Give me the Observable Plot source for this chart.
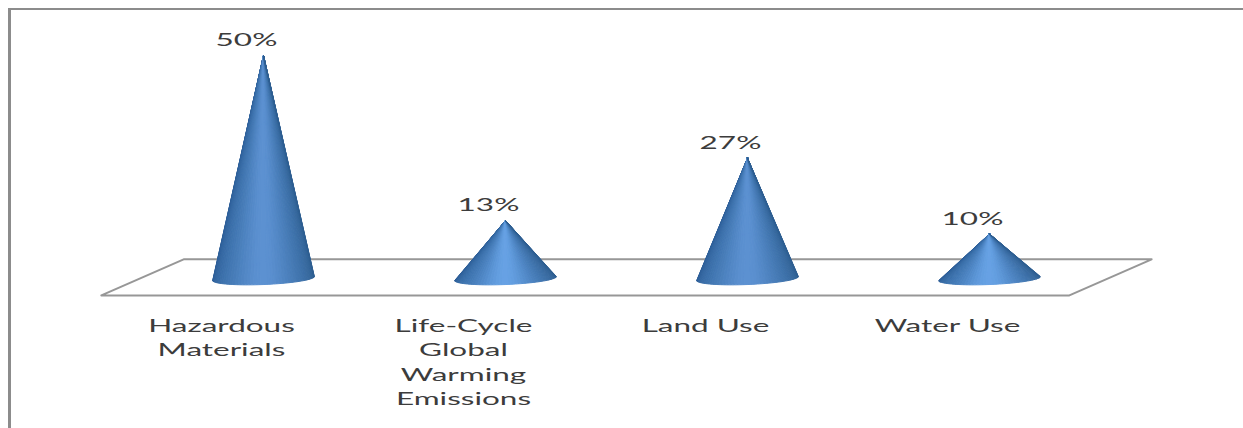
<!DOCTYPE html>
<html>
<head>
<meta charset="utf-8">
<script src="https://cdn.jsdelivr.net/npm/d3@7"></script>
<script src="https://cdn.jsdelivr.net/npm/@observablehq/plot@0.6"></script>
<style>
  html, body { margin: 0; background: #fff; }
  body { width: 1243px; height: 428px; overflow: hidden; position: relative; }
  #frame { position: absolute; left: 8px; top: 8px; width: 1300px; height: 500px;
           border-left: 3px solid #8c8c8c; border-top: 2px solid #8c8c8c; box-sizing: border-box; }
  #chart { position: absolute; left: 0; top: 0; }
</style>
</head>
<body>
<div id="frame"></div>
<div id="chart"></div>
<script>
// Share of impact by category
const categories = [
  "Hazardous\nMaterials",
  "Life-Cycle\nGlobal\nWarming\nEmissions",
  "Land Use",
  "Water Use"
];
const shares = [50, 13, 27, 10];

// Floor outline, in category index and percentage units
const floorX = [-0.67, -0.33, 3.67, 3.33, -0.67];
const floorY = [-3.8, 4.3, 4.3, -3.8, -3.8];

// Cone proportions, in the same units
const baseHalfWidth = 0.21;
const baseDrop = 1.35;
const baseTilt = 0.45;
const facetCount = 48;

// Shading runs from the left rim through the lit centre to the right rim
const tallShade = ["#2a5a94", "#3a6ea8", "#4a80bc", "#6599dc", "#4a80bc", "#3a6ca2", "#2d5d90"];
const shortShade = ["#2a5a94", "#3a70aa", "#4c84c2", "#74b0f5", "#4c84c2", "#3a6ca2", "#2d5d90"];

const facets = [];
shares.forEach((share, c) => {
  const shade = d3.interpolateRgbBasis(share > 20 ? tallShade : shortShade);
  for (let i = 0; i < facetCount; i++) {
    const id = `${c}-${i}`;
    const color = shade((i + 0.5) / facetCount);
    const rim = t => {
      const a = Math.PI * (1 - t);
      return {
        x: c + baseHalfWidth * Math.cos(a),
        y: -baseDrop * Math.sin(a) + baseTilt * Math.cos(a)
      };
    };
    facets.push({id, color, x: c, y: share});
    facets.push({id, color, ...rim(i / facetCount)});
    facets.push({id, color, ...rim((i + 1) / facetCount)});
    facets.push({id, color, x: c, y: share});
  }
});

const rows = categories.map((label, i) => ({i, label, share: shares[i]}));

const plot = Plot.plot({
  width: 1243,
  height: 428,
  margin: 0,
  style: {background: "transparent", overflow: "visible"},
  x: {domain: [-1, 4], range: [21, 1231], axis: null},
  y: {domain: [0, 50], range: [278, 55], axis: null},
  marks: [
    Plot.line({length: floorX.length}, {
      x: floorX, y: floorY, stroke: "#979797", strokeWidth: 2, curve: "linear"
    }),
    Plot.line(facets, {
      x: "x", y: "y", z: "id", fill: "color", stroke: "color",
      strokeWidth: 1, curve: "linear"
    }),
    Plot.text(rows, {
      x: "i", y: "share", text: d => `${d.share}%`, dx: -17, dy: -15,
      fontSize: 17.5, fontFamily: "Lato", fill: "#3c3c3c", className: "stretched"
    }),
    Plot.text(rows, {
      x: "i", y: () => -8.2, text: "label", dx: -42, lineAnchor: "top", lineHeight: 1.38,
      fontSize: 17.5, fontFamily: "Lato", fill: "#3c3c3c", className: "stretched"
    })
  ]
});

// The labels are set wide, so widen each one about its anchor point
plot.querySelectorAll(".stretched text").forEach(t => {
  t.setAttribute("transform", `${t.getAttribute("transform")} scale(1.8, 1)`);
});

document.getElementById("chart").appendChild(plot);
</script>
</body>
</html>
